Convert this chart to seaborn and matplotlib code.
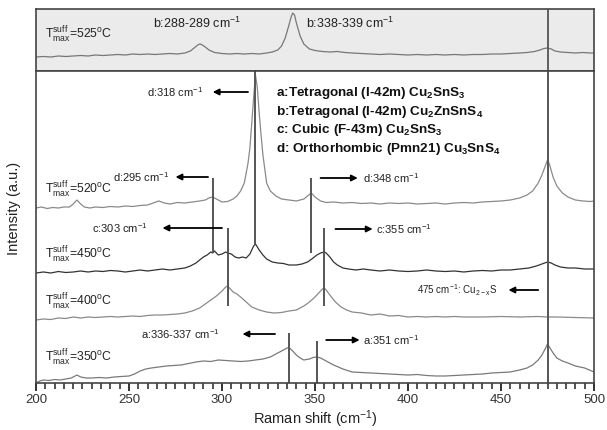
import matplotlib
matplotlib.use("Agg")
import matplotlib.pyplot as plt
from matplotlib.ticker import MultipleLocator
import seaborn as sns
import pandas as pd

# ---- spectra (x: Raman shift, y: stacked intensity) ----
x525 = [200, 204, 208, 212, 216, 220, 224, 228, 232, 236, 240, 244, 248, 252, 256, 260, 264, 268, 272, 276,
        280, 283, 285, 287, 288, 289, 291, 293, 296, 300, 304, 308, 312, 316, 320, 324, 327, 330, 332, 334,
        336, 337, 338, 339, 340, 342, 344, 347, 350, 354, 358, 362, 366, 370, 375, 380, 385, 390, 395, 400,
        405, 410, 415, 420, 425, 430, 435, 440, 445, 450, 455, 460, 464, 468, 471, 473, 475, 477, 479, 482,
        486, 490, 494, 498, 500]
y525 = [14, 14.5, 14, 15, 14.5, 15, 15.5, 15, 16, 15.5, 16, 16.5, 16, 17, 16.5, 17, 16.5, 17, 17.5, 17,
        18, 20, 23, 26, 27, 26.5, 24, 21, 18.5, 17.5, 17, 17.5, 17, 17.5, 17, 18, 19, 21, 25, 33,
        46, 53, 58, 56, 48, 35, 27, 22, 20.5, 19.5, 19, 19.5, 18.5, 18, 17.5, 17, 16.5, 17, 16.5, 16,
        16.5, 16, 16.5, 16, 16.5, 16, 16.5, 16.5, 17, 17, 17.5, 18, 18.5, 19.5, 21, 22.5, 23, 22, 20, 19,
        18.5, 18, 18.5, 18, 18]

x520 = [200, 203, 206, 209, 212, 215, 218, 220, 222, 224, 226, 229, 232, 236, 240, 244, 248, 252, 256, 260,
        263, 266, 269, 272, 276, 280, 284, 288, 291, 293, 295, 297, 300, 303, 306, 308, 310, 312, 314, 315,
        316, 317, 318, 319, 320, 321, 322, 324, 326, 329, 332, 336, 340, 344, 346, 348, 350, 353, 356, 360,
        365, 370, 375, 380, 385, 390, 395, 400, 405, 410, 415, 420, 425, 430, 435, 440, 445, 450, 455, 460,
        464, 467, 470, 472, 474, 475, 476, 478, 480, 483, 486, 490, 494, 498, 500]
y520 = [175, 176, 174.5, 175.5, 175, 176, 176, 179, 183, 179, 176, 175, 176, 175.5, 176.5, 176, 177, 176.5, 177.5, 178,
        180, 182, 180, 179, 180.5, 180, 181, 182, 183, 185, 186, 184, 181, 181.5, 184, 187, 192, 200, 220, 235,
        260, 285, 308, 295, 270, 248, 228, 200, 192, 187, 184, 183, 182, 184, 187, 190, 186, 182, 180.5, 181,
        180, 180.5, 179.5, 180, 179, 180, 179.5, 180, 179, 179.5, 180, 179, 180, 180.5, 180, 181, 181.5, 182, 183, 185,
        188, 192, 200, 208, 218, 223, 219, 206, 197, 190, 186, 183, 182, 181.5, 182]

x450 = [200, 204, 208, 212, 216, 220, 224, 228, 232, 236, 240, 244, 248, 252, 256, 260, 264, 268, 272, 276,
        280, 283, 286, 288, 290, 292, 294, 295, 296, 298, 300, 302, 303, 305, 307, 309, 311, 313, 315, 316,
        317, 318, 319, 320, 322, 324, 327, 330, 333, 336, 340, 343, 346, 349, 351, 353, 355, 356, 358, 360,
        362, 365, 368, 372, 376, 380, 385, 390, 395, 400, 405, 410, 415, 420, 425, 430, 435, 440, 445, 450,
        455, 460, 465, 469, 472, 475, 477, 479, 482, 486, 490, 495, 500]
y450 = [110, 111, 110, 111.5, 110.5, 111, 112, 111, 112, 111.5, 112.5, 112, 111, 112, 113, 112, 113, 114, 113, 114,
        115, 117, 120, 123, 126, 128, 131, 130, 132, 128, 129, 131, 130, 129, 126, 125, 126, 125, 129, 133,
        137, 139, 136, 133, 128, 124, 121, 120, 119.5, 118, 118, 119, 121, 125, 128, 130, 131, 130, 126, 121,
        118, 115, 114, 113, 114, 113, 112, 113, 112, 111.5, 112, 113, 112, 111.5, 112, 111, 112, 112.5, 112, 113,
        113, 114, 115, 117, 119, 121, 120, 118, 116, 115, 115, 114, 114]

x400 = [200, 204, 208, 212, 216, 220, 224, 228, 232, 236, 240, 244, 248, 252, 256, 260, 264, 268, 272, 276,
        280, 284, 288, 291, 294, 297, 300, 302, 303, 304, 306, 308, 310, 313, 316, 320, 324, 328, 332, 336,
        340, 344, 347, 350, 352, 354, 355, 356, 358, 361, 364, 367, 370, 375, 380, 385, 390, 395, 400, 405,
        410, 415, 420, 425, 430, 440, 450, 460, 470, 475, 480, 490, 500]
y400 = [63, 64, 63.5, 65, 64.5, 66, 65, 66, 65.5, 66, 66.5, 66, 66.5, 67, 66.5, 67.5, 68, 68, 68.5, 69,
        70, 72, 75, 79, 83, 87, 92, 96, 97, 95, 91, 89, 86, 81, 76, 73, 71, 70, 70.5, 72,
        73, 77, 81, 86, 90, 94, 95, 93, 88, 81, 76, 73, 71, 70, 68, 69, 67, 67.5, 66, 66.5,
        66, 66.5, 66, 66.5, 66, 66, 66.5, 66, 66.5, 66, 66, 65.5, 65]

x350 = [200, 202, 204, 207, 210, 213, 216, 219, 222, 224, 227, 230, 234, 238, 242, 246, 250, 253, 256, 259,
        262, 266, 270, 274, 278, 282, 286, 290, 294, 298, 302, 306, 310, 314, 318, 322, 326, 330, 333, 335,
        336, 338, 340, 342, 344, 347, 349, 351, 353, 356, 360, 365, 370, 375, 380, 385, 390, 395, 400, 405,
        410, 415, 420, 425, 430, 435, 440, 445, 450, 455, 460, 464, 467, 470, 472, 474, 475, 476, 478, 480,
        483, 486, 490, 495, 500]
y350 = [0, 2, 3, 2.5, 3.5, 3, 4, 5, 8, 6, 5, 5, 5.5, 5, 6, 6.5, 7, 9, 12, 14,
        15, 16, 17, 17.5, 18, 19.5, 21, 22, 21.5, 23, 22.5, 22, 21.5, 22, 23, 24, 26, 30, 33, 35,
        35.5, 32, 28, 25, 23, 24, 25.5, 26, 25, 22, 18, 14, 11, 10.5, 10, 9.5, 9, 8.5, 8, 8.5,
        7.5, 7, 7, 7.5, 8, 8.5, 9, 10, 10.5, 11, 13, 15, 18, 23, 28, 35, 39, 36, 30, 25,
        22, 20, 17, 15, 11]

temps = ["520", "450", "400", "350"]
xticks = [200, 250, 300, 350, 400, 450, 500]

# marker lines: (position, bottom, top) in main-panel units
marker_lines = [(318, 139, 312), (295, 130, 205), (303, 77, 155), (348, 130, 205),
                (355, 77, 155), (336, 0, 50), (351, 0, 42), (475, 0, 312)]

# arrow notes: (label, text x, arrow tail, arrow head, y, align)
notes = [
    (r"d:318 cm$^{-1}$", 290, 314, 295, 291, "right"),
    (r"d:295 cm$^{-1}$", 272, 292.5, 275, 206, "right"),
    (r"c:303 cm$^{-1}$", 260, 300, 268, 155, "right"),
    (r"d:348 cm$^{-1}$", 376, 353, 373, 205, "left"),
    (r"c:355 cm$^{-1}$", 383, 361, 381, 154, "left"),
    (r"a:336-337 cm$^{-1}$", 299, 328.5, 311, 49, "right"),
    (r"a:351 cm$^{-1}$", 376, 356, 374, 43, "left"),
    (r"475 cm$^{-1}$: Cu$_{2-x}$S", 448, 470, 454, 93, "right"),
]

phases = [r"a:Tetragonal (I-42m) Cu$_2$SnS$_3$",
          r"b:Tetragonal (I-42m) Cu$_2$ZnSnS$_4$",
          r"c: Cubic (F-43m) Cu$_2$SnS$_3$",
          r"d: Orthorhombic (Pmn21) Cu$_3$SnS$_4$"]

sns.set_theme(style="white")
plt.rcParams["font.family"] = ["Liberation Sans", "DejaVu Sans"]
plt.rcParams["mathtext.default"] = "regular"
plt.rcParams.update({
    "xtick.bottom": True,
    "xtick.direction": "out",
    "xtick.major.size": 6,
    "xtick.minor.size": 4,
    "xtick.major.width": 1.3,
    "xtick.minor.width": 1.1,
    "xtick.color": "#222222",
})

fig = plt.figure(figsize=(6.07, 4.30), dpi=100)
W, H = 607, 430
ax_top = fig.add_axes([36 / W, 1 - 71 / H, 558 / W, 62 / H])
ax = fig.add_axes([36 / W, 1 - 383 / H, 558 / W, 312 / H])

edge = "#444444"

# top panel
ax_top.set_facecolor("#ebebeb")
sns.lineplot(x=x525, y=y525, ax=ax_top, color="#777777", lw=0.9, estimator=None, sort=False)
ax_top.axvline(475, color="#555555", lw=1.3)
ax_top.set_xlim(200, 500)
ax_top.set_ylim(0, 62)
ax_top.tick_params(which="both", bottom=False, left=False, labelbottom=False, labelleft=False)
ax_top.set_xlabel("")
for s in ax_top.spines.values():
    s.set_color(edge)
    s.set_linewidth(1.2)
ax_top.text(205, 36, r"$T_{max}^{suff}$=525$^{o}$C", fontsize=8.8, va="center", color="#222222")
ax_top.text(263, 48, r"b:288-289 cm$^{-1}$", fontsize=9, va="center", color="#222222")
ax_top.text(345, 48, r"b:338-339 cm$^{-1}$", fontsize=9, va="center", color="#222222")

# main panel
spectra = pd.DataFrame({
    "shift": x520 + x450 + x400 + x350,
    "intensity": y520 + y450 + y400 + y350,
    "temp": ["520"] * len(x520) + ["450"] * len(x450) + ["400"] * len(x400) + ["350"] * len(x350),
})
palette = {"520": "#8a8a8a", "450": "#333333", "400": "#8a8a8a", "350": "#7a7a7a"}
sns.lineplot(data=spectra, x="shift", y="intensity", hue="temp", palette=palette,
             ax=ax, lw=0.9, estimator=None, sort=False, legend=False)

for pos, lo, hi in marker_lines:
    ax.vlines(pos, lo, hi, color="#555555", lw=1.4)

for label, tx, tail, head, y, ha in notes:
    ax.annotate("", xy=(head, y), xytext=(tail, y),
                arrowprops=dict(arrowstyle="-|>", color="black", lw=1.3,
                                mutation_scale=9, shrinkA=0, shrinkB=0))
    fs = 7 if label.startswith("475") else 8
    ax.text(tx, y, label, ha=ha, va="center", fontsize=fs, color="#222222")

for i, p in enumerate(phases):
    ax.text(329, 290 - i * 18.7, p, fontsize=9.7, fontweight="bold", va="center", color="#111111")

for t, yy in zip(temps, [193, 128, 81, 25]):
    ax.text(205, yy, r"$T_{max}^{suff}$=" + t + r"$^{o}$C", fontsize=8.8, va="center", color="#222222")

ax.set_xlim(200, 500)
ax.set_ylim(0, 312)
ax.set_xticks(xticks)
ax.xaxis.set_minor_locator(MultipleLocator(5))
ax.tick_params(axis="x", which="major", labelsize=9.5, labelcolor="#333333", pad=2)
ax.tick_params(axis="y", which="both", left=False, labelleft=False)
for s in ax.spines.values():
    s.set_color(edge)
    s.set_linewidth(1.2)
ax.set_xlabel(r"Raman shift (cm$^{-1}$)", fontsize=10.5, color="#222222", labelpad=2)
ax.set_ylabel("")
fig.text(14 / W, 1 - 208 / H, "Intensity (a.u.)", rotation=90, fontsize=10.5,
         ha="center", va="center", color="#222222")

plt.savefig("out.png", dpi=100)
